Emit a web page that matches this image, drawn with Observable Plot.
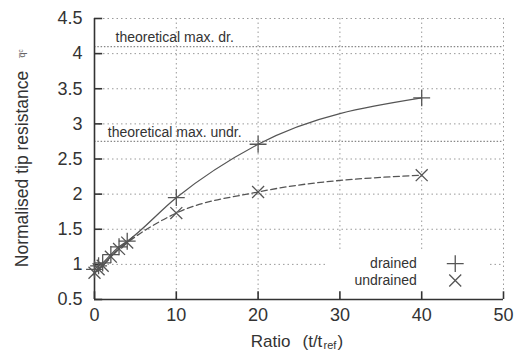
<!DOCTYPE html>
<html>
<head>
<meta charset="utf-8">
<script src="https://cdn.jsdelivr.net/npm/d3@7"></script>
<script src="https://cdn.jsdelivr.net/npm/@observablehq/plot@0.6"></script>
<style>
  html, body { margin: 0; padding: 0; background: #fff; }
  #chart svg { display: block; }
</style>
</head>
<body>
<div id="chart"></div>
<script>
// ---- data ----
const ratio = [0, 0.5, 1, 2, 3, 4, 10, 20, 40];
const drained = [0.93, 0.98, 1.02, 1.14, 1.25, 1.33, 1.95, 2.71, 3.37];
const undrained = [0.88, 0.93, 0.98, 1.11, 1.22, 1.31, 1.73, 2.03, 2.27];
const theoreticalValues = [4.1, 2.75];
const theoreticalLabels = ["theoretical max. dr.", "theoretical max. undr."];
const xTicks = [0, 10, 20, 30, 40, 50];
const yTicks = [0.5, 1, 1.5, 2, 2.5, 3, 3.5, 4, 4.5];
const legendLabels = ["drained", "undrained"];
const legendSymbols = ["plus", "times"];

// ---- build tables ----
const dr = ratio.map((r, i) => ({x: r, y: drained[i]}));
const un = ratio.map((r, i) => ({x: r, y: undrained[i]}));
const theo = theoreticalValues.map((v, i) => ({y: v, label: theoreticalLabels[i]}));
const legend = legendLabels.map((l, i) => ({label: l, symbol: legendSymbols[i], y: [1.01, 0.77][i]}));

const ink = "#555";
const gridColor = "#9a9a9a";

const chart = Plot.plot({
  width: 519,
  height: 351,
  marginLeft: 94,
  marginRight: 16,
  marginTop: 18,
  marginBottom: 52,
  x: {domain: [0, 50], axis: null},
  y: {domain: [0.5, 4.5], axis: null},
  style: {fontFamily: "'Liberation Sans', Arial, sans-serif", background: "#fff", color: "#333"},
  marks: [
    // grid
    Plot.ruleY(yTicks.filter(d => d > 0.5), {stroke: gridColor, strokeWidth: 1, strokeDasharray: "1.5,3"}),
    Plot.ruleX(xTicks.filter(d => d > 0), {stroke: gridColor, strokeWidth: 1, strokeDasharray: "1.5,3"}),
    // theoretical maxima
    Plot.ruleY(theo, {y: "y", stroke: "#888", strokeWidth: 1.2, strokeDasharray: "1.5,1.8"}),
    Plot.text(theo, {x: 9.8, y: "y", text: "label", dy: -9, fontSize: 14, fill: "#333", textAnchor: "middle"}),
    // legend box
    Plot.rect([0], {x1: 28.4, x2: 48.3, y1: 0.52, y2: 1.2, fill: "#fff"}),
    // axis spines
    Plot.ruleX([0], {stroke: "#333", strokeWidth: 1.6}),
    Plot.ruleY([0.5], {stroke: "#333", strokeWidth: 1.6}),
    // inward ticks
    Plot.ruleY(yTicks, {x1: 0, x2: 1, stroke: "#333", strokeWidth: 1.6}),
    Plot.ruleX(xTicks, {y1: 0.5, y2: 0.61, stroke: "#333", strokeWidth: 1.6}),
    // tick labels
    Plot.axisY(yTicks, {tickSize: 0, tickPadding: 12, label: null, fontSize: 18, tickFormat: d => String(d)}),
    Plot.axisX(xTicks, {tickSize: 0, tickPadding: 9, label: null, fontSize: 18}),
    // data
    Plot.line(dr, {x: "x", y: "y", stroke: ink, strokeWidth: 1.3, curve: "monotone-x"}),
    Plot.line(un, {x: "x", y: "y", stroke: ink, strokeWidth: 1.3, strokeDasharray: "6,3.5", curve: "monotone-x"}),
    Plot.dot(dr, {x: "x", y: "y", symbol: "plus", r: 5.5, stroke: ink, strokeWidth: 1.3, fill: "none"}),
    Plot.dot(un, {x: "x", y: "y", symbol: "times", r: 5.5, stroke: ink, strokeWidth: 1.3, fill: "none"}),
    // legend
    Plot.text(legend, {x: 39.4, y: "y", text: "label", textAnchor: "end", fontSize: 14, fill: "#333"}),
    Plot.dot(legend, {x: 44.1, y: "y", symbol: "symbol", r: 5.5, stroke: ink, strokeWidth: 1.3, fill: "none"}),
    // axis labels
    Plot.text(["Normalised tip resistance"], {frameAnchor: "left", rotate: -90, textAnchor: "middle", lineAnchor: "middle", dx: -72, dy: 10, fontSize: 17.5, fill: "#333"}),
    Plot.text(["q\u0305\u1D9C"], {frameAnchor: "top-left", rotate: -90, textAnchor: "middle", lineAnchor: "middle", dx: -72, dy: 35, fontSize: 9, fill: "#666"}),
    Plot.text(["Ratio"], {frameAnchor: "bottom-left", dx: 196, dy: 47, textAnchor: "end", fontSize: 17, fill: "#333"}),
    Plot.text(["(t/t"], {frameAnchor: "bottom-left", dx: 208, dy: 47, textAnchor: "start", fontSize: 17, fill: "#333"}),
    Plot.text(["ref"], {frameAnchor: "bottom-left", dx: 229, dy: 49.5, textAnchor: "start", fontSize: 11, fill: "#333"}),
    Plot.text([")"], {frameAnchor: "bottom-left", dx: 243, dy: 47, textAnchor: "start", fontSize: 17, fill: "#333"})
  ]
});
document.getElementById("chart").appendChild(chart);
</script>
</body>
</html>
